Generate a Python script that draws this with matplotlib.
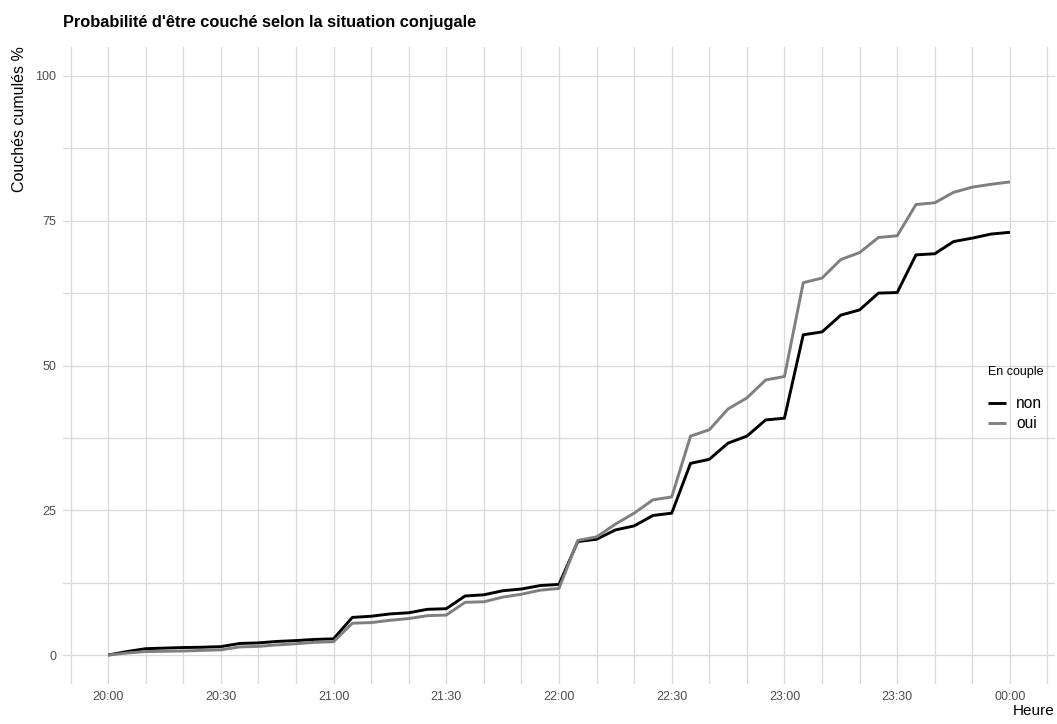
import matplotlib
matplotlib.use("Agg")
import matplotlib.pyplot as plt
from matplotlib.ticker import MultipleLocator, FixedLocator
import numpy as np

plt.rcParams['font.family'] = ['Liberation Sans', 'DejaVu Sans']

# minutes after 20:00, every 5 minutes
minutes = list(range(0, 245, 5))
non = [0, 0.6, 1.1, 1.2, 1.3, 1.35, 1.45, 2.0, 2.1, 2.35, 2.5, 2.7, 2.8,
       6.5, 6.7, 7.1, 7.3, 7.9, 8.0, 10.2, 10.4, 11.1, 11.4, 12.0, 12.2,
       19.6, 20.0, 21.6, 22.3, 24.1, 24.5, 33.1, 33.8, 36.6, 37.8, 40.6, 40.9,
       55.3, 55.8, 58.7, 59.6, 62.5, 62.6, 69.1, 69.3, 71.4, 72.0, 72.7, 73.0]
oui = [0, 0.35, 0.6, 0.65, 0.7, 0.8, 0.9, 1.4, 1.5, 1.75, 1.95, 2.2, 2.3,
       5.5, 5.6, 6.0, 6.3, 6.8, 6.9, 9.1, 9.2, 10.0, 10.5, 11.2, 11.5,
       19.8, 20.4, 22.6, 24.5, 26.8, 27.3, 37.8, 38.9, 42.5, 44.4, 47.5, 48.1,
       64.3, 65.1, 68.3, 69.5, 72.1, 72.4, 77.8, 78.1, 79.9, 80.8, 81.3, 81.7]
tick_minutes = [0, 30, 60, 90, 120, 150, 180, 210, 240]
tick_labels = ["20:00", "20:30", "21:00", "21:30", "22:00", "22:30", "23:00", "23:30", "00:00"]
y_ticks = [0, 25, 50, 75, 100]

fig = plt.figure(figsize=(10.57, 7.24), dpi=100)
ax = fig.add_axes([63/1057, 40/724, 992/1057, 637/724])

grid_c = '#D9D9D9'
ax.set_xlim(-12, 252)
ax.set_ylim(-5, 105)
ax.xaxis.set_major_locator(FixedLocator(tick_minutes))
ax.set_xticklabels(tick_labels)
ax.xaxis.set_minor_locator(MultipleLocator(10))
ax.yaxis.set_major_locator(FixedLocator(y_ticks))
ax.yaxis.set_minor_locator(MultipleLocator(12.5))
ax.grid(True, which='both', color=grid_c, linewidth=0.9)
ax.set_axisbelow(True)
for s in ax.spines.values():
    s.set_visible(False)
ax.tick_params(which='both', length=0, labelsize=9, labelcolor='#4D4D4D')
ax.tick_params(axis='x', pad=5)
ax.tick_params(axis='y', pad=5)

l1, = ax.plot(minutes, non, color='black', linewidth=2.1, label='non', solid_capstyle='butt')
l2, = ax.plot(minutes, oui, color='#7F7F7F', linewidth=2.1, label='oui', solid_capstyle='butt')

fig.text(63/1057, 1 - 22/724, "Probabilité d'être couché selon la situation conjugale",
         fontsize=11.8, fontweight='bold', ha='left', va='center')
fig.text(20/1057, 1 - 46/724, "Couchés cumulés %", rotation=90, fontsize=11.5,
         ha='center', va='top')
fig.text(1055/1057, 1 - 711/724, "Heure", fontsize=11, ha='right', va='center')

leg = fig.legend(handles=[l1, l2], labels=['non', 'oui'], title='En couple',
                 loc='upper left', bbox_to_anchor=(988/1057, 1 - 366/724),
                 frameon=False, fontsize=11.2, title_fontsize=9,
                 handlelength=1.15, handletextpad=0.65, labelspacing=0.32,
                 borderaxespad=0, borderpad=0)
leg._legend_box.align = 'left'
leg._legend_box.sep = 13

fig.savefig('out.png', dpi=100, facecolor='white')
